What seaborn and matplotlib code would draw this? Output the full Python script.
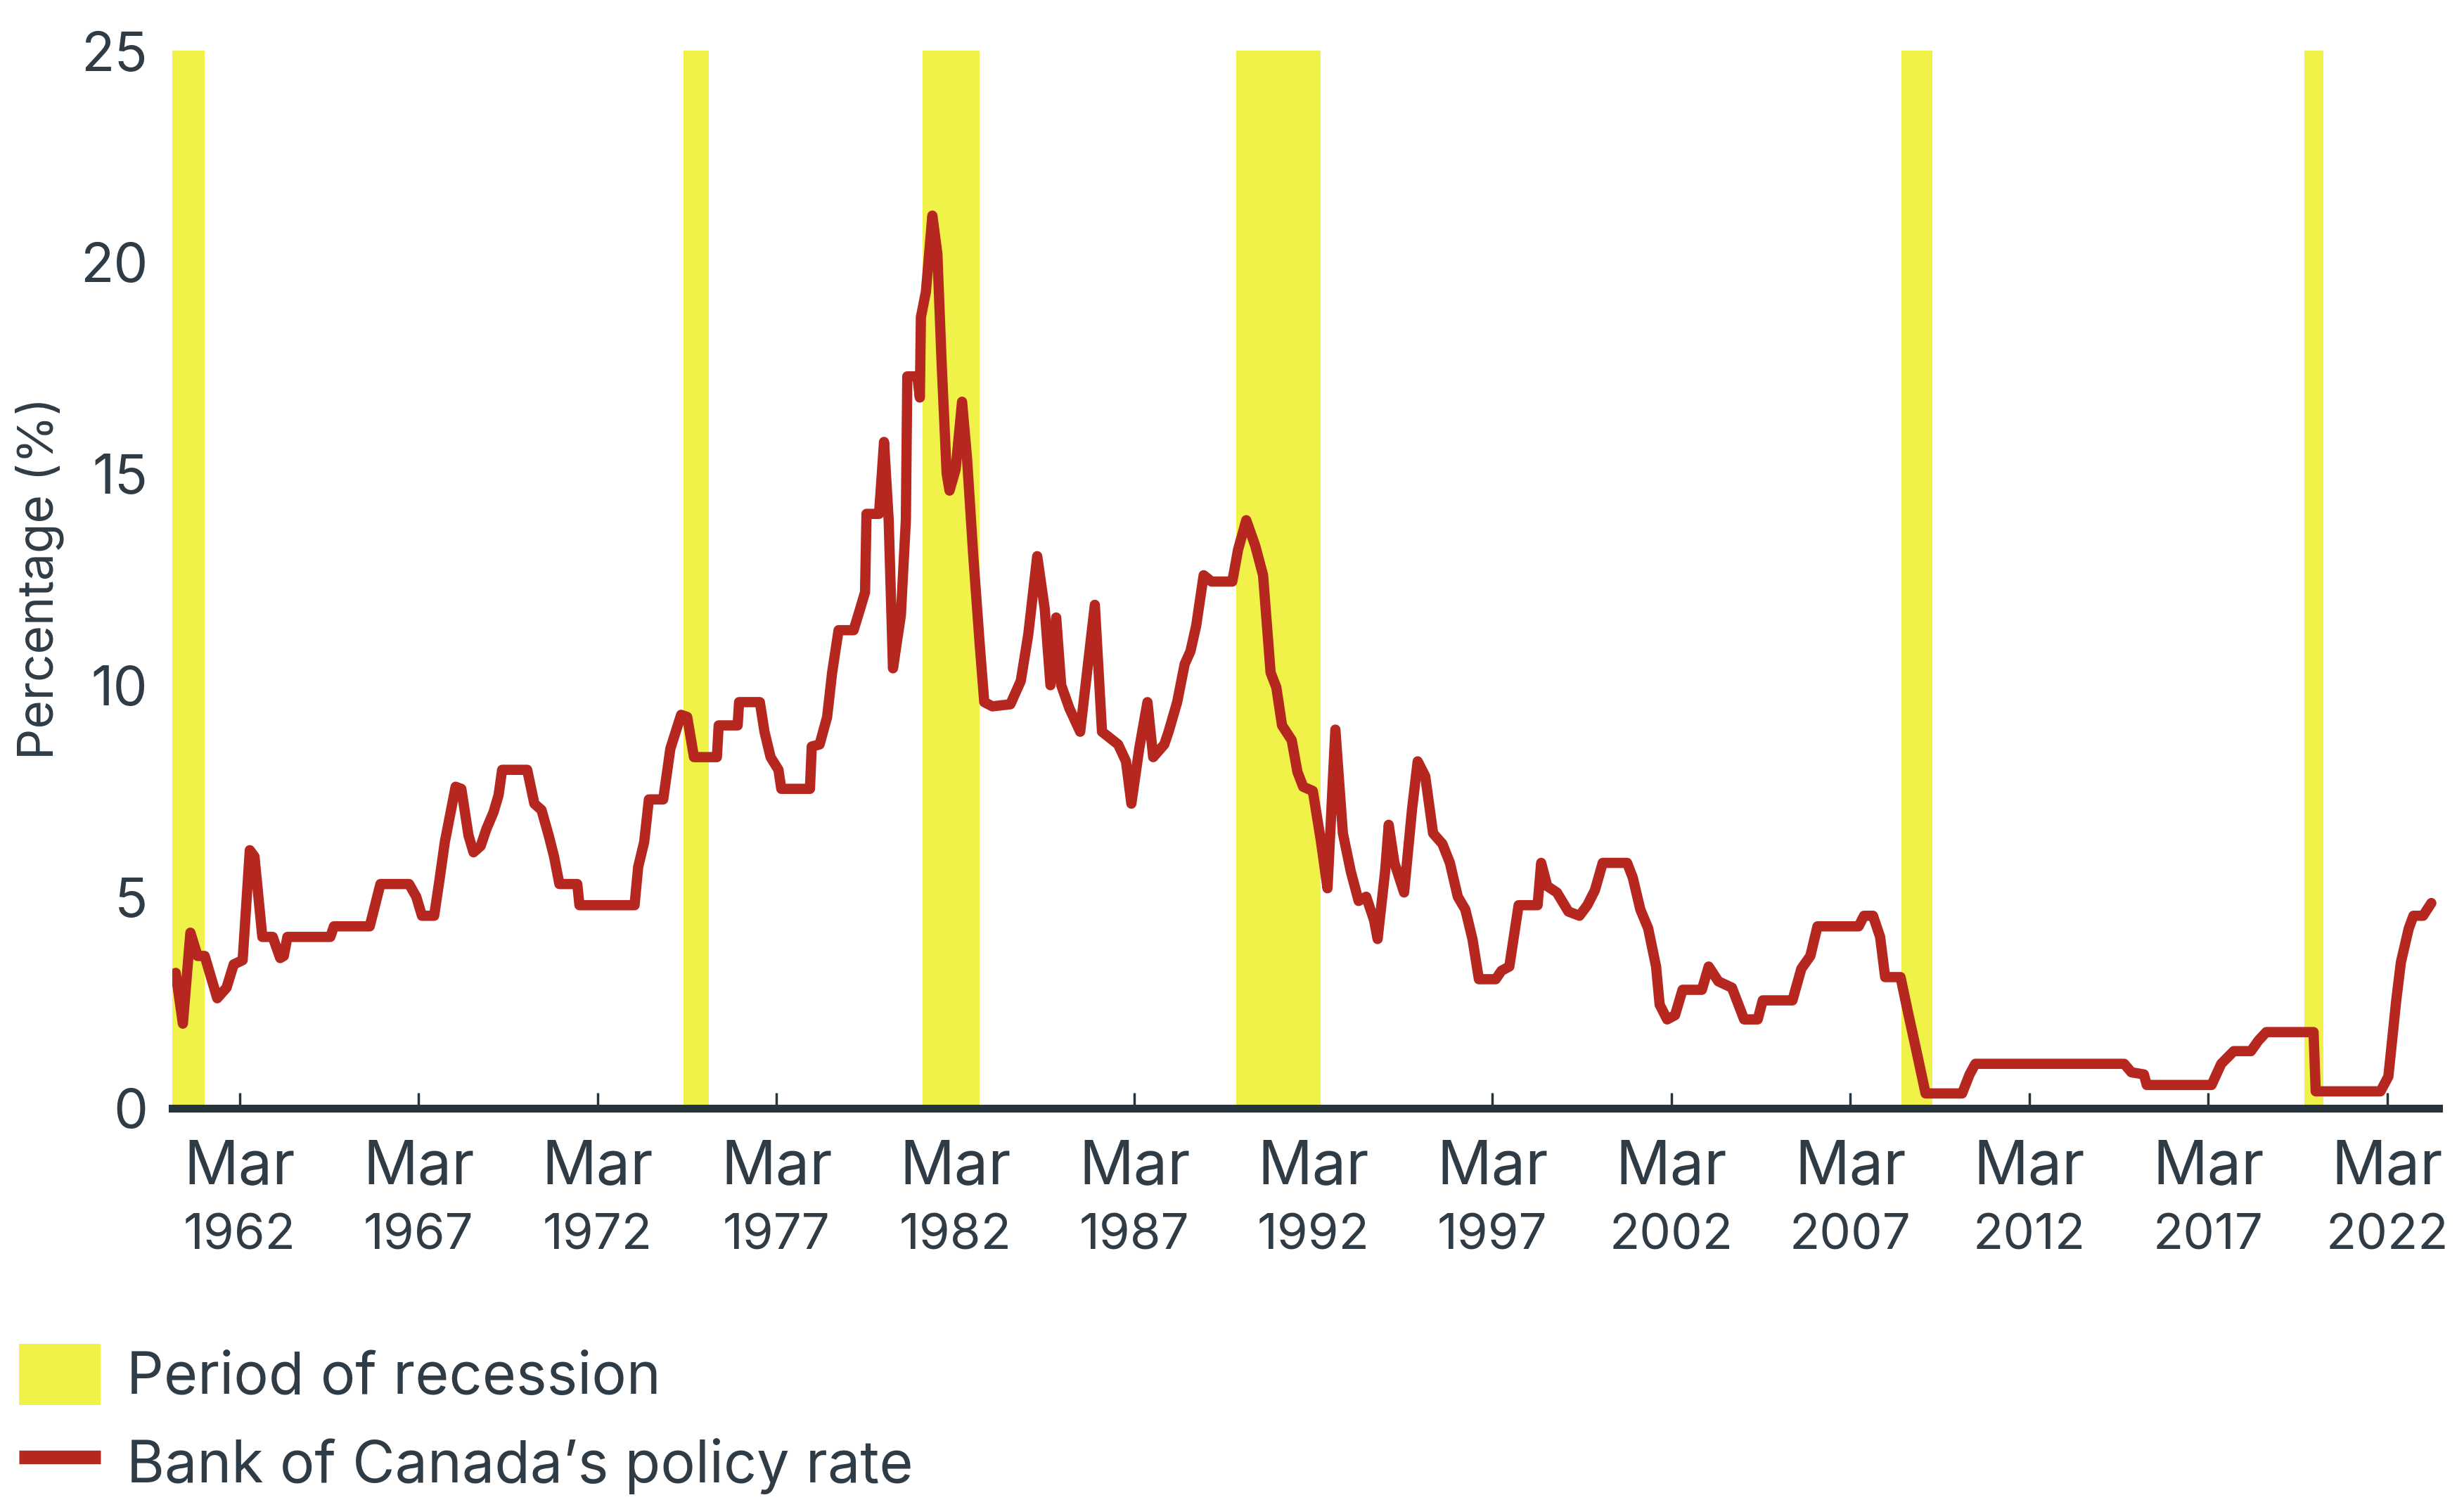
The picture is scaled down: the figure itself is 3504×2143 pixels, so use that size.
import matplotlib
matplotlib.use("Agg")
import matplotlib.pyplot as plt
from matplotlib.patches import Patch
from matplotlib.lines import Line2D
import pandas as pd
import seaborn as sns

# Bank of Canada's policy rate (%), dated in decimal years
rate_year = [
    1960.38, 1960.58, 1960.79, 1960.99, 1961.19, 1961.54, 1961.80, 1962.00, 1962.25, 1962.45,
    1962.58, 1962.80, 1963.09, 1963.30, 1963.40, 1963.50, 1964.70, 1964.80, 1965.80, 1965.95,
    1966.10, 1966.90, 1967.10, 1967.26, 1967.60, 1967.75, 1967.90, 1968.20, 1968.36, 1968.56,
    1968.70, 1968.90, 1969.06, 1969.26, 1969.40, 1969.50, 1970.20, 1970.40, 1970.60, 1970.80,
    1970.95, 1971.10, 1971.60, 1971.66, 1973.20, 1973.30, 1973.47, 1973.60, 1974.00, 1974.20,
    1974.50, 1974.67, 1974.86, 1975.50, 1975.55, 1976.08, 1976.12, 1976.70, 1976.83, 1977.00,
    1977.22, 1977.30, 1978.10, 1978.15, 1978.37, 1978.58, 1978.72, 1978.90, 1979.32, 1979.50,
    1979.64, 1979.68, 1980.03, 1980.17, 1980.30, 1980.42, 1980.64, 1980.78, 1980.82, 1981.10,
    1981.17, 1981.20, 1981.34, 1981.52, 1981.66, 1981.78, 1981.92, 1982.00, 1982.17, 1982.35,
    1982.49, 1982.66, 1982.84, 1982.97, 1983.20, 1983.70, 1983.99, 1984.20, 1984.45, 1984.66,
    1984.82, 1984.98, 1985.12, 1985.35, 1985.65, 1986.06, 1986.26, 1986.71, 1986.93, 1987.08,
    1987.30, 1987.53, 1987.69, 1988.00, 1988.12, 1988.36, 1988.57, 1988.73, 1988.89, 1989.10,
    1989.32, 1989.90, 1990.06, 1990.29, 1990.54, 1990.76, 1990.97, 1991.13, 1991.29, 1991.56,
    1991.72, 1991.88, 1992.15, 1992.37, 1992.56, 1992.78, 1992.99, 1993.21, 1993.43, 1993.64,
    1993.86, 1993.96, 1994.17, 1994.27, 1994.43, 1994.70, 1994.92, 1995.08, 1995.29, 1995.51,
    1995.77, 1995.98, 1996.20, 1996.41, 1996.61, 1996.79, 1997.26, 1997.42, 1997.64, 1997.90,
    1998.43, 1998.53, 1998.70, 1998.97, 1999.29, 1999.60, 1999.82, 2000.03, 2000.25, 2000.93,
    2001.09, 2001.30, 2001.52, 2001.74, 2001.84, 2002.05, 2002.27, 2002.48, 2003.02, 2003.21,
    2003.48, 2003.86, 2004.20, 2004.58, 2004.72, 2005.55, 2005.80, 2006.05, 2006.25, 2007.40,
    2007.55, 2007.80, 2008.00, 2008.14, 2008.57, 2008.77, 2008.99, 2009.27, 2010.29, 2010.50,
    2010.66, 2014.82, 2015.02, 2015.37, 2015.45, 2017.26, 2017.53, 2017.88, 2018.36, 2018.57,
    2018.79, 2020.11, 2020.17, 2021.98, 2022.20, 2022.42, 2022.55, 2022.77, 2022.90, 2023.17,
    2023.40,
]
rate_value = [
    3.20, 2.00, 4.15, 3.60, 3.60, 2.60, 2.85, 3.40, 3.50, 6.10,
    5.95, 4.05, 4.05, 3.55, 3.60, 4.05, 4.05, 4.30, 4.30, 4.80,
    5.30, 5.30, 5.00, 4.55, 4.55, 5.40, 6.30, 7.60, 7.55, 6.45,
    6.05, 6.20, 6.60, 7.00, 7.40, 8.00, 8.00, 7.20, 7.05, 6.45,
    5.95, 5.30, 5.30, 4.80, 4.80, 5.70, 6.30, 7.30, 7.30, 8.50,
    9.30, 9.25, 8.30, 8.30, 9.05, 9.05, 9.60, 9.60, 8.90, 8.30,
    8.00, 7.55, 7.55, 8.55, 8.60, 9.25, 10.30, 11.30, 11.30, 11.80,
    12.20, 14.05, 14.05, 15.75, 13.90, 10.40, 11.65, 13.90, 17.30, 17.30,
    16.80, 18.70, 19.30, 21.10, 20.20, 17.60, 15.00, 14.60, 15.10, 16.70,
    15.35, 13.10, 11.00, 9.60, 9.50, 9.55, 10.10, 11.20, 13.05, 11.80,
    10.00, 11.60, 10.00, 9.45, 8.90, 11.90, 8.90, 8.60, 8.20, 7.20,
    8.50, 9.60, 8.30, 8.60, 8.90, 9.60, 10.50, 10.80, 11.40, 12.60,
    12.45, 12.45, 13.20, 13.90, 13.30, 12.60, 10.30, 9.95, 9.05, 8.70,
    7.95, 7.60, 7.50, 6.35, 5.20, 8.95, 6.50, 5.60, 4.90, 5.00,
    4.45, 4.00, 5.60, 6.70, 5.80, 5.10, 7.05, 8.20, 7.85, 6.50,
    6.25, 5.80, 5.00, 4.70, 4.00, 3.05, 3.05, 3.25, 3.35, 4.80,
    4.80, 5.80, 5.25, 5.10, 4.65, 4.55, 4.80, 5.15, 5.80, 5.80,
    5.45, 4.70, 4.25, 3.35, 2.45, 2.10, 2.20, 2.80, 2.80, 3.35,
    3.00, 2.85, 2.10, 2.10, 2.55, 2.55, 3.30, 3.60, 4.30, 4.30,
    4.55, 4.55, 4.05, 3.10, 3.10, 2.30, 1.45, 0.35, 0.35, 0.80,
    1.05, 1.05, 0.85, 0.80, 0.55, 0.55, 1.05, 1.35, 1.35, 1.60,
    1.80, 1.80, 0.40, 0.40, 0.75, 2.55, 3.45, 4.25, 4.55, 4.55,
    4.85,
]

# Recession periods (decimal years)
recession_start = [1960.28, 1974.57, 1981.24, 1990.00, 2008.60, 2019.85]
recession_end = [1961.19, 1975.27, 1982.83, 1992.37, 2009.46, 2020.38]

tick_years = [1962, 1967, 1972, 1977, 1982, 1987, 1992, 1997, 2002, 2007, 2012, 2017, 2022]
tick_month = "Mar"
y_ticks = [0, 5, 10, 15, 20, 25]

legend_labels = ["Period of recession", "Bank of Canada\u2019s policy rate"]
y_title = "Percentage (%)"

YELLOW = "#F0F24A"
RED = "#B5271F"
DARK = "#27343C"
TEXT = "#2F3B45"

sns.set_theme(style="white")
plt.rcParams["font.family"] = ["Inter", "DejaVu Sans"]

df = pd.DataFrame({"year": rate_year, "rate": rate_value})

fig = plt.figure(figsize=(35.05, 21.43), dpi=100)
ax = fig.add_axes([0.0699, 0.2646, 0.9195, 0.7018])

for s, e in zip(recession_start, recession_end):
    ax.axvspan(s, e, color=YELLOW, lw=0, zorder=1)

sns.lineplot(data=df, x="year", y="rate", color=RED, linewidth=10.5,
             ax=ax, legend=False, zorder=3)
for ln in ax.lines:
    ln.set_solid_joinstyle("round")
    ln.set_solid_capstyle("round")

ax.set_xlim(1960.284, 2023.603)
ax.set_ylim(0, 25)

for side in ["top", "right", "left"]:
    ax.spines[side].set_visible(False)
ax.spines["bottom"].set_color(DARK)
ax.spines["bottom"].set_linewidth(8)
ax.spines["bottom"].set_zorder(4)

tick_pos = [y + 2 / 12 for y in tick_years]
ax.set_xticks(tick_pos)
ax.set_xticklabels([])
ax.tick_params(axis="x", direction="in", length=16, width=2.5, color=DARK, bottom=True)

ax.set_yticks(y_ticks)
ax.set_yticklabels([str(v) for v in y_ticks], fontsize=56, color=TEXT)
ax.tick_params(axis="y", length=0, pad=25)

xt = ax.get_xaxis_transform()
for pos, yr in zip(tick_pos, tick_years):
    ax.text(pos, -0.056, tick_month, transform=xt, ha="center", va="center",
            fontsize=62, color=TEXT)
    ax.text(pos, -0.121, str(yr), transform=xt, ha="center", va="center",
            fontsize=51, color=TEXT)

ax.set_xlabel("")
ax.set_ylabel("")
fig.text(56 / 3505, 1 - 822 / 2143, y_title, rotation=90, ha="center", va="center",
         fontsize=50, color=TEXT)

handles = [
    Patch(facecolor=YELLOW, edgecolor="none"),
    Line2D([0], [0], color=RED, linewidth=14, solid_capstyle="butt"),
]
fig.legend(handles, legend_labels, loc="upper left", bbox_to_anchor=(27 / 3505, 1 - 1911 / 2143),
           frameon=False, fontsize=59.5, labelcolor=TEXT, handlelength=1.4, handleheight=1.24,
           handletextpad=0.45, labelspacing=0.45, borderpad=0, borderaxespad=0)

fig.savefig("out.png", dpi=100, facecolor="white")
